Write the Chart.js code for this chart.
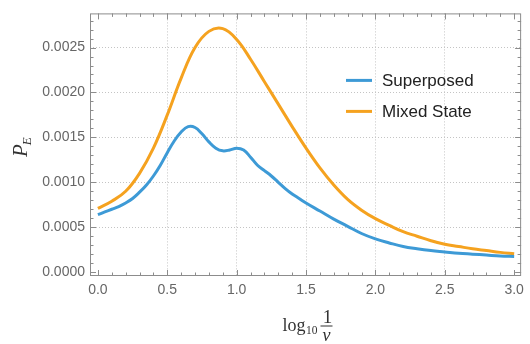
<!DOCTYPE html>
<html>
<head>
<meta charset="utf-8">
<script src="https://cdn.jsdelivr.net/npm/chart.js@4.4.1/dist/chart.umd.min.js"></script>
<style>
  html, body { margin: 0; padding: 0; background: #fff; }
  canvas { display: block; }
</style>
</head>
<body>
<canvas id="chart1" width="530" height="344"></canvas>
<script>
// log10(1/v) sample points for each curve
const superposedX = [0, 0.05, 0.1, 0.15, 0.2, 0.25, 0.3, 0.35, 0.4, 0.45, 0.5, 0.55, 0.6, 0.65, 0.7,
  0.75, 0.8, 0.85, 0.9, 0.95, 1.0, 1.05, 1.1, 1.15, 1.2, 1.25, 1.3, 1.35, 1.4, 1.45, 1.5,
  1.6, 1.7, 1.8, 1.9, 2.0, 2.1, 2.2, 2.3, 2.4, 2.5, 2.6, 2.7, 2.8, 2.9, 3.0];
const superposed = [0.00064, 0.00067, 0.00070, 0.00073, 0.00077, 0.00082, 0.00089, 0.00097, 0.00107,
  0.00119, 0.00133, 0.00146, 0.00156, 0.00162, 0.00161, 0.00154, 0.00145, 0.00138, 0.00135,
  0.00136, 0.00138, 0.00136, 0.00128, 0.00119, 0.00113, 0.00107, 0.00100, 0.00093, 0.00087,
  0.00082, 0.00077, 0.00068, 0.00059, 0.00051, 0.00043, 0.00037, 0.000325, 0.000285, 0.00026,
  0.00024, 0.000225, 0.00021, 0.0002, 0.00019, 0.00018, 0.000175];

const mixedX = [0, 0.1, 0.2, 0.3, 0.4, 0.5, 0.6, 0.7, 0.8, 0.9, 1.0, 1.1, 1.2, 1.3, 1.4, 1.5,
  1.6, 1.7, 1.8, 1.9, 2.0, 2.1, 2.2, 2.3, 2.4, 2.5, 2.6, 2.7, 2.8, 2.9, 3.0];
const mixedState = [0.00071, 0.00079, 0.00090, 0.00110, 0.00138, 0.00175, 0.00216, 0.00250, 0.00268,
  0.00271, 0.00259, 0.00237, 0.00212, 0.00187, 0.00162, 0.00138, 0.00116, 0.00097, 0.00081,
  0.00069, 0.000595, 0.00052, 0.00045, 0.00040, 0.00035, 0.00031, 0.000285, 0.00026, 0.00024,
  0.00022, 0.000205];

const seriesNames = ['Superposed', 'Mixed State'];
const seriesColors = ['#3d9ad6', '#f5a21f'];

const xTicks = [0, 0.5, 1.0, 1.5, 2.0, 2.5, 3.0];
const yTicks = [0, 0.0005, 0.0010, 0.0015, 0.0020, 0.0025];
const xMinorStep = 0.1;
const yMinorStep = 0.0001;

const frameColor = '#8c8c8c';
const tickFont = { family: 'Liberation Sans, Arial, sans-serif', size: 14 };
const serif = 'Liberation Serif, Times New Roman, serif';

function toPoints(xs, ys) {
  return xs.map((x, i) => ({ x: x, y: ys[i] }));
}

// grid only at inner major ticks (not at 0 or the ends)
function gridColor(ctx, edges) {
  if (!ctx.tick) return 'rgba(0,0,0,0)';
  return edges.includes(ctx.tick.value) ? 'rgba(0,0,0,0)' : '#c4c4c4';
}

// frame with inward ticks on all four sides
const framePlugin = {
  id: 'frame',
  afterDraw(chart) {
    const { ctx, chartArea: a, scales } = chart;
    const xs = scales.x, ys = scales.y;
    ctx.save();
    ctx.strokeStyle = frameColor;
    ctx.lineWidth = 1;
    ctx.strokeRect(a.left + 0.5, a.top + 0.5, a.right - a.left - 1, a.bottom - a.top - 1);
    ctx.beginPath();
    const nx = Math.round(xs.max / xMinorStep);
    for (let i = 0; i <= nx; i++) {
      const v = i * xMinorStep;
      if (v > xs.max) break;
      const px = Math.round(xs.getPixelForValue(v)) + 0.5;
      const len = (i % 5 === 0) ? 6 : 3.5;
      ctx.moveTo(px, a.bottom); ctx.lineTo(px, a.bottom - len);
      ctx.moveTo(px, a.top); ctx.lineTo(px, a.top + len);
    }
    const ny = Math.round(ys.max / yMinorStep);
    for (let i = 0; i <= ny; i++) {
      const v = i * yMinorStep;
      if (v > ys.max) break;
      const py = Math.round(ys.getPixelForValue(v)) + 0.5;
      const len = (i % 5 === 0) ? 6 : 3.5;
      ctx.moveTo(a.left, py); ctx.lineTo(a.left + len, py);
      ctx.moveTo(a.right, py); ctx.lineTo(a.right - len, py);
    }
    ctx.stroke();
    ctx.restore();
  }
};

// legend inside the plot, right of the peak
const insideLegend = {
  id: 'insideLegend',
  afterDraw(chart) {
    const { ctx, chartArea: a } = chart;
    const x0 = a.left + 256, y0 = a.top + 67, gap = 31;
    ctx.save();
    ctx.font = '17px Liberation Sans, Arial, sans-serif';
    ctx.textBaseline = 'middle';
    chart.data.datasets.forEach((ds, i) => {
      const y = y0 + i * gap;
      ctx.strokeStyle = ds.borderColor;
      ctx.lineWidth = 3;
      ctx.beginPath();
      ctx.moveTo(x0, y); ctx.lineTo(x0 + 26, y);
      ctx.stroke();
      ctx.fillStyle = '#222';
      ctx.fillText(ds.label, x0 + 36, y + 1);
    });
    ctx.restore();
  }
};

// axis titles: P_E and log10 (1/v)
const axisTitles = {
  id: 'axisTitles',
  afterDraw(chart) {
    const { ctx } = chart;
    ctx.save();
    ctx.fillStyle = '#333';
    ctx.textBaseline = 'alphabetic';
    // y title, rotated
    ctx.translate(27, 157);
    ctx.rotate(-Math.PI / 2);
    ctx.font = 'italic 21px ' + serif;
    ctx.fillText('P', 0, 0);
    const pw = ctx.measureText('P').width;
    ctx.font = 'italic 13px ' + serif;
    ctx.fillText('E', pw - 1, 4);
    ctx.setTransform(1, 0, 0, 1, 0, 0);
    // x title
    const bx = 282.5, by = 331;
    ctx.font = '18px ' + serif;
    ctx.fillText('log', bx, by);
    const lw = ctx.measureText('log').width;
    ctx.font = '11.5px ' + serif;
    ctx.fillText('10', bx + lw + 0.5, by + 3);
    const fx = 326.5;
    ctx.textAlign = 'center';
    ctx.font = '19px ' + serif;
    ctx.fillText('1', fx + 1, 322.5);
    ctx.font = 'italic 18px ' + serif;
    ctx.fillText('v', fx, 341);
    ctx.fillRect(fx - 6, 325.5, 12, 1);
    ctx.restore();
  }
};

const ctx = document.getElementById('chart1').getContext('2d');
const chart = new Chart(ctx, {
  type: 'line',
  data: {
    datasets: [
      toPoints(superposedX, superposed),
      toPoints(mixedX, mixedState)
    ].map((pts, i) => ({
      label: seriesNames[i],
      data: pts,
      borderColor: seriesColors[i],
      borderWidth: 3,
      pointRadius: 0,
      fill: false,
      tension: 0.4
    }))
  },
  options: {
    responsive: false,
    animation: false,
    layout: { padding: { top: 6, right: 6, left: 0, bottom: 0 } },
    plugins: { legend: { display: false }, tooltip: { enabled: false } },
    scales: {
      x: {
        type: 'linear',
        min: -0.057,
        max: 3.05,
        afterBuildTicks: s => { s.ticks = xTicks.map(v => ({ value: v })); },
        afterFit: s => { s.height = 68; },
        ticks: {
          padding: 6,
          color: '#666',
          font: tickFont,
          maxRotation: 0,
          callback: v => v.toFixed(1)
        },
        grid: { drawTicks: false, color: c => gridColor(c, [0, 3]) },
        border: { display: false, dash: [1, 2] }
      },
      y: {
        type: 'linear',
        min: -0.000043,
        max: 0.00288,
        afterBuildTicks: s => { s.ticks = yTicks.map(v => ({ value: v })); },
        afterFit: s => { s.width = 90; },
        ticks: {
          padding: 5,
          color: '#666',
          font: tickFont,
          callback: v => v.toFixed(4)
        },
        grid: { drawTicks: false, color: c => gridColor(c, [0]) },
        border: { display: false, dash: [1, 2] }
      }
    }
  },
  plugins: [framePlugin, insideLegend, axisTitles]
});
</script>
</body>
</html>
